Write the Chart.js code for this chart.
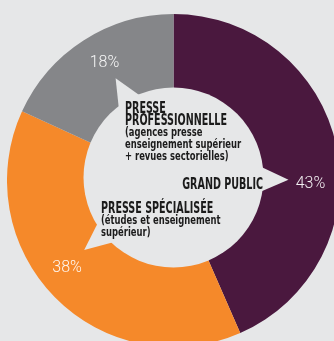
<!DOCTYPE html>
<html lang="fr">
<head>
<meta charset="utf-8">
<title>Répartition des retombées presse</title>
<script src="https://cdn.jsdelivr.net/npm/chart.js@4.4.1/dist/chart.umd.min.js"></script>
<style>
  html, body { margin: 0; padding: 0; overflow: hidden; background: #e6e7e8; }
  body { width: 334px; height: 341px; position: relative; }
  #wrap { position: absolute; left: 7px; top: 14px; width: 333px; height: 333px; }
</style>
</head>
<body>
<div id="wrap"><canvas id="chart"></canvas></div>
<script>
// Data
const categories = ['GRAND PUBLIC', 'PRESSE SPÉCIALISÉE', 'PRESSE PROFESSIONNELLE'];
const shares = [43, 38, 18];
const shareLabels = ['43%', '38%', '18%'];
const titleLines = [
  ['GRAND PUBLIC'],
  ['PRESSE SPÉCIALISÉE'],
  ['PRESSE', 'PROFESSIONNELLE'],
];
const noteLines = [
  [],
  ['(études et enseignement', 'supérieur)'],
  ['(agences presse', 'enseignement supérieur', '+ revues sectorielles)'],
];

const COLORS = ['#4a183e', '#f5892a', '#858689'];
const BG = '#e6e7e8';
const INK = '#1b1b1b';
const TEXT_FONT = '"Liberation Sans Narrow", "DejaVu Sans Condensed", "Liberation Sans", sans-serif';

// label / pointer nudges from the arc middle, in degrees
const SHIFT = [13, 5.5, 2.5];

// text blocks inside the bubble: offset from chart centre, alignment
const BLOCKS = [
  { dx: 89.5, dy: 8, align: 'right' },
  { dx: -72.5, dy: 32, align: 'left' },
  { dx: -48.5, dy: -68, align: 'left' },
];

const rad = (d) => d * Math.PI / 180;

function squeezeText(ctx, text, x, y, font, align, sx) {
  ctx.save();
  ctx.font = font;
  ctx.textAlign = align;
  ctx.textBaseline = 'alphabetic';
  ctx.translate(x, y);
  ctx.scale(sx, 1);
  ctx.fillText(text, 0, 0);
  ctx.restore();
}

const bubblePlugin = {
  id: 'bubble',
  afterDatasetsDraw(chart) {
    const ctx = chart.ctx;
    const arcs = chart.getDatasetMeta(0).data;
    const cx = arcs[0].x;
    const cy = arcs[0].y;
    const bx = cx;
    const by = cy - 3;
    const bubbleR = 90;

    ctx.save();
    ctx.fillStyle = BG;
    ctx.beginPath();
    ctx.arc(bx, by, bubbleR, 0, Math.PI * 2);
    ctx.fill();

    // pointers towards each value
    arcs.forEach((arc, i) => {
      const mid = (arc.startAngle + arc.endAngle) / 2 + rad(SHIFT[i]);
      const half = rad(9);
      ctx.beginPath();
      ctx.moveTo(bx + 86 * Math.cos(mid - half), by + 86 * Math.sin(mid - half));
      ctx.lineTo(bx + 115 * Math.cos(mid), by + 115 * Math.sin(mid));
      ctx.lineTo(bx + 86 * Math.cos(mid + half), by + 86 * Math.sin(mid + half));
      ctx.closePath();
      ctx.fill();
    });

    // value labels on the ring
    ctx.fillStyle = 'rgba(255,255,255,0.93)';
    ctx.font = '300 16px Roboto, "Open Sans", sans-serif';
    ctx.textAlign = 'center';
    ctx.textBaseline = 'middle';
    arcs.forEach((arc, i) => {
      const mid = (arc.startAngle + arc.endAngle) / 2 + rad(SHIFT[i]);
      ctx.fillText(shareLabels[i], cx + 137 * Math.cos(mid), cy + 137 * Math.sin(mid) + 1);
    });

    // category names inside the bubble
    ctx.fillStyle = INK;
    BLOCKS.forEach((b, i) => {
      let y = cy + b.dy;
      titleLines[i].forEach((line, k) => {
        if (k > 0) y += 12;
        squeezeText(ctx, line, cx + b.dx, y, 'bold 15px ' + TEXT_FONT, b.align, 0.71);
      });
      noteLines[i].forEach((line) => {
        y += 11.8;
        squeezeText(ctx, line, cx + b.dx, y, 'bold 13px ' + TEXT_FONT, b.align, 0.72);
      });
    });
    ctx.restore();
  },
};

new Chart(document.getElementById('chart'), {
  type: 'doughnut',
  data: {
    labels: categories,
    datasets: [{
      data: shares,
      backgroundColor: COLORS,
      borderWidth: 0,
    }],
  },
  options: {
    responsive: true,
    maintainAspectRatio: false,
    animation: false,
    cutout: '50%',
    layout: { padding: 0 },
    plugins: {
      legend: { display: false },
      tooltip: { enabled: false },
    },
  },
  plugins: [bubblePlugin],
});
</script>
</body>
</html>
